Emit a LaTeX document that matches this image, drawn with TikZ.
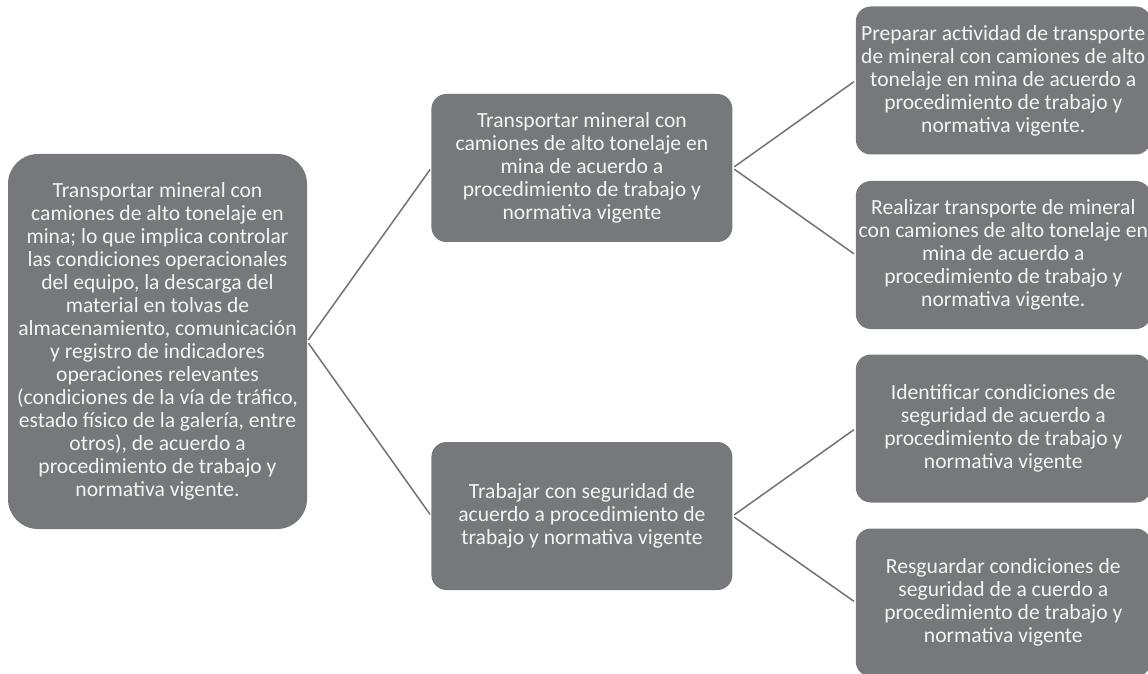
\documentclass[tikz,border=0pt]{standalone}
\usepackage{fontspec}
\setmainfont{Carlito}
\usepackage{tikz}
\usetikzlibrary{positioning}
\definecolor{boxgray}{HTML}{77787B}
\definecolor{linegray}{HTML}{727272}
\definecolor{textwhite}{HTML}{F4F4F4}

\begin{document}
\begin{tikzpicture}[%
  x=1pt,
  y=1pt,
  shorten >=2pt,
  shorten <=2pt,
  box/.style={
    fill=boxgray,
    text=textwhite,
    rounded corners=15pt,
    minimum width=301pt,
    minimum height=148pt,
    inner sep=0pt,
    align=center,
    font=\fontsize{21.6}{23}\selectfont,},
  rootbox/.style={
    box,
    rounded corners=30pt,
    minimum width=299pt,
    minimum height=375pt,},
  leafbox/.style={
    box,
    minimum width=295pt,},
  pil/.style={
    draw=linegray,
    line width=1.5pt,}
  ]
  \useasboundingbox (0,0) rectangle (1148,673);
  \clip (0,0) rectangle (1148,673);
  %% Nodes
  \node[rootbox] (T0) at (157.5,331.5) {Transportar mineral con\\
    camiones de alto tonelaje en\\
    mina; lo que implica controlar\\
    las condiciones operacionales\\
    del equipo, la descarga del\\
    material en tolvas de\\
    almacenamiento, comunicación\\
    y registro de indicadores\\
    operaciones relevantes\\
    (condiciones de la vía de tráfico,\\
    estado físico de la galería, entre\\
    otros), de acuerdo a\\
    procedimiento de trabajo y\\
    normativa vigente.};
  \node[box, right = 124pt of T0, yshift=173.5pt] (T1) {Transportar mineral con\\
    camiones de alto tonelaje en\\
    mina de acuerdo a\\
    procedimiento de trabajo y\\
    normativa vigente};
  \node[box, right = 124pt of T0, yshift=-174.5pt] (T2) {Trabajar con seguridad de\\
    acuerdo a procedimiento de\\
    trabajo y normativa vigente};
  \node[leafbox, right = 123pt of T1, yshift=87.5pt] (T11) {Preparar actividad de transporte\\
    de mineral con camiones de alto\\
    tonelaje en mina de acuerdo a\\
    procedimiento de trabajo y\\
    normativa vigente.};
  \node[leafbox, right = 123pt of T1, yshift=-87pt] (T12) {Realizar transporte de mineral\\
    con camiones de alto tonelaje en\\
    mina de acuerdo a\\
    procedimiento de trabajo y\\
    normativa vigente.};
  \node[leafbox, right = 123pt of T2, yshift=87.5pt] (T21) {Identificar condiciones de\\
    seguridad de acuerdo a\\
    procedimiento de trabajo y\\
    normativa vigente};
  \node[leafbox, right = 123pt of T2, yshift=-86.5pt] (T22) {Resguardar condiciones de\\
    seguridad de a cuerdo a\\
    procedimiento de trabajo y\\
    normativa vigente};
  %% Edges
  \draw[pil] (T0.east) -- (T1.west);
  \draw[pil] (T0.east) -- (T2.west);
  \draw[pil] (T1.east) -- (T11.west);
  \draw[pil] (T1.east) -- (T12.west);
  \draw[pil] (T2.east) -- (T21.west);
  \draw[pil] (T2.east) -- (T22.west);
\end{tikzpicture}
\end{document}
